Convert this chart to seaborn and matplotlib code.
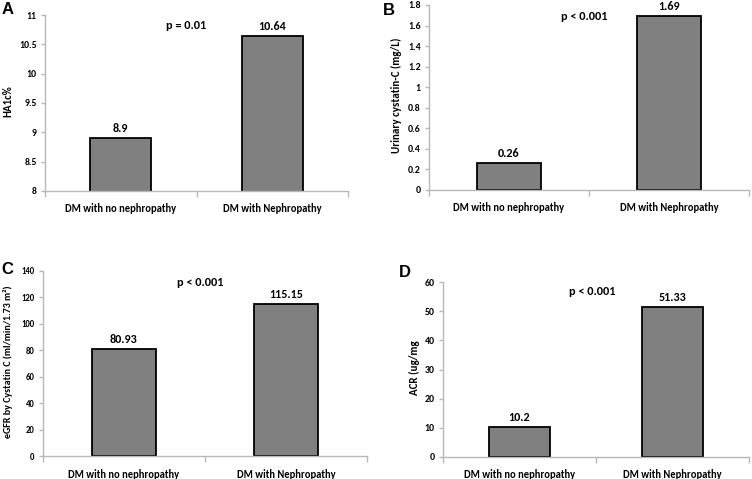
import matplotlib
matplotlib.use("Agg")
import matplotlib.pyplot as plt
import seaborn as sns
import pandas as pd
import numpy as np
from matplotlib.ticker import FuncFormatter, MultipleLocator, FixedLocator

sns.set_theme(style="white")
plt.rcParams['font.family'] = ['Carlito', 'DejaVu Sans']
plt.rcParams['font.weight'] = 'bold'

categories = ["DM with no nephropathy", "DM with Nephropathy"]

hba1c_values = [8.9, 10.64]
cystatin_values = [0.26, 1.69]
egfr_values = [80.93, 115.15]
acr_values = [10.2, 51.33]

value_labels_a = ["8.9", "10.64"]
value_labels_b = ["0.26", "1.69"]
value_labels_c = ["80.93", "115.15"]
value_labels_d = ["10.2", "51.33"]

panel_letters = ["A", "B", "C", "D"]
y_titles = ["HA1c%", "Urinary cystatin-C (mg/L)",
            "eGFR by Cystatin C (ml/min/1.73 m\u00b2)", "ACR (ug/mg"]
p_texts = ["p = 0.01", "p < 0.001", "p < 0.001", "p < 0.001"]
y_limits = [(8, 11), (0, 1.8), (0, 140), (0, 60)]
y_steps = [0.5, 0.2, 20, 10]

W, H = 752, 479
fig = plt.figure(figsize=(W / 100, H / 100), dpi=100)

# pixel boxes: left, right, top, bottom
boxes = [(45, 348, 15, 191), (429, 749, 5, 190), (43, 367, 271, 456), (443, 749, 282, 457)]
letter_pos = [(8, 13.5), (388.5, 15), (7.5, 274), (405, 277)]
p_pos = [(0.465, 0.943), (0.486, 0.94), (0.485, 0.94), (0.489, 0.943)]
ylab_x = [8, 396, 8, 414]
ylab_size = [7.9, 7.9, 7.2, 7.9]
ytick_size = [7, 7, 6.3, 7]

series = [hba1c_values, cystatin_values, egfr_values, acr_values]
vlabels = [value_labels_a, value_labels_b, value_labels_c, value_labels_d]

fmt = FuncFormatter(lambda v, p: "{:g}".format(round(v, 6)))

for i in range(4):
    l, r, t, b = boxes[i]
    ax = fig.add_axes([l / W, 1 - b / H, (r - l) / W, (b - t) / H])
    df = pd.DataFrame({"group": categories, "value": series[i]})
    sns.barplot(data=df, x="group", y="value", ax=ax, color="#808080",
                saturation=1, width=0.4, edgecolor="black", linewidth=1.3)
    lo, hi = y_limits[i]
    ax.set_ylim(lo, hi)
    ax.set_xlim(-0.5, 1.5)
    ax.yaxis.set_major_locator(MultipleLocator(y_steps[i]))
    ax.yaxis.set_major_formatter(fmt)
    ax.bar_label(ax.containers[0], labels=vlabels[i], padding=3,
                 fontsize=8.7, fontweight="bold", color="black")
    for s in ["top", "right"]:
        ax.spines[s].set_visible(False)
    for s in ["left", "bottom"]:
        ax.spines[s].set_color("#b8b8b8")
        ax.spines[s].set_linewidth(1.0)
    ax.set_xlabel("")
    ax.set_ylabel(y_titles[i], fontsize=ylab_size[i], fontweight="bold", color="black")
    ax.yaxis.label.set_va("center")
    ax.yaxis.set_label_coords((ylab_x[i] - l) / (r - l), 0.51)
    ax.tick_params(axis="y", left=True, length=3, width=1, color="#b8b8b8",
                   labelsize=ytick_size[i], labelcolor="black", pad=3)
    ax.tick_params(axis="x", bottom=False, labelsize=7.6, labelcolor="black", pad=3)
    ax.xaxis.set_minor_locator(FixedLocator([-0.5, 0.5, 1.5]))
    ax.tick_params(axis="x", which="minor", bottom=True, length=4, width=1, color="#b8b8b8")
    for lab in ax.get_xticklabels() + ax.get_yticklabels():
        lab.set_fontweight("bold")
    ax.text(p_pos[i][0], p_pos[i][1], p_texts[i], transform=ax.transAxes,
            ha="center", va="center", fontsize=8.8, fontweight="bold", color="black")
    ax.grid(False)
    fig.text(letter_pos[i][0] / W, 1 - letter_pos[i][1] / H, panel_letters[i],
             ha="center", va="baseline", fontsize=12, fontweight="bold", color="black",
             family=["Liberation Sans", "DejaVu Sans"])

fig.savefig("out.png", dpi=100, facecolor="white")
